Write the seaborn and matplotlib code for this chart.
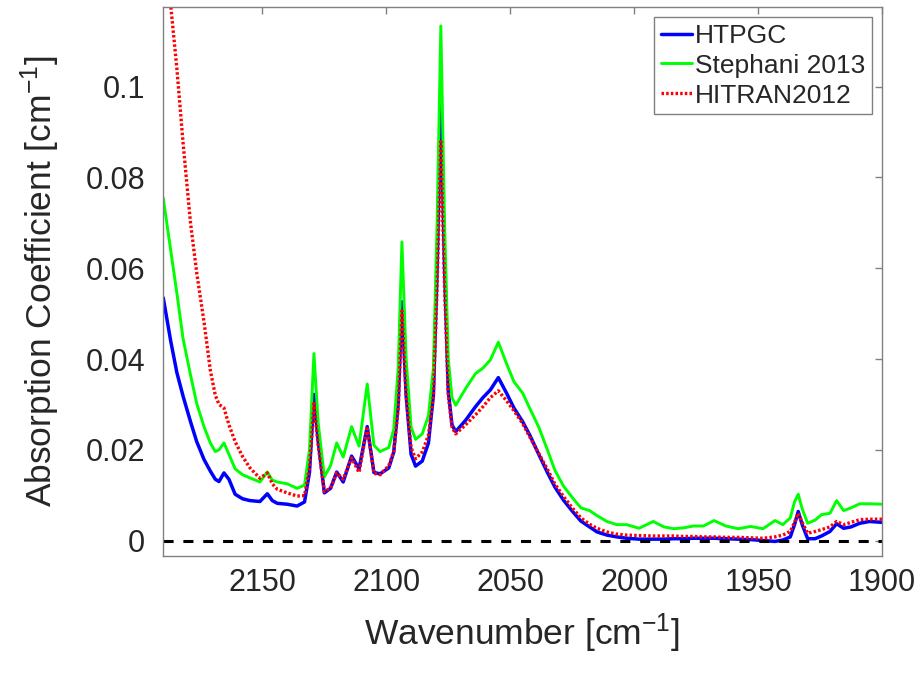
import matplotlib
matplotlib.use("Agg")
import matplotlib.pyplot as plt
import seaborn as sns
import pandas as pd

# wavenumber grid [cm-1] and the three absorption spectra
wavenumber = [
    2190, 2187, 2184.5, 2182, 2179, 2176.5, 2173.5, 2171, 2169, 2167.5,
    2165.5, 2163.5, 2161, 2158, 2155, 2151, 2148, 2146, 2144, 2140,
    2136, 2133, 2131, 2129.2, 2127.5, 2125, 2122.5, 2120, 2117.4, 2114,
    2111, 2107.7, 2105, 2102.5, 2099, 2097, 2095.2, 2093.7, 2092, 2090,
    2088.2, 2085.5, 2083, 2081, 2079.5, 2078, 2076.5, 2075, 2073.5, 2072,
    2068, 2064, 2061, 2058, 2054.8, 2051.5, 2048.5, 2045, 2042, 2038.5,
    2035, 2032, 2028.5, 2025, 2021.5, 2018, 2015, 2011, 2007, 2003,
    1998, 1992.3, 1988, 1984, 1980, 1976, 1972, 1967.8, 1963, 1958,
    1953, 1948, 1943.2, 1940, 1937, 1935.3, 1933.8, 1932.2, 1930, 1927,
    1924.4, 1921, 1918.3, 1915.5, 1912.5, 1909, 1905, 1900,
]

htpgc = [
    0.0535, 0.0440, 0.0370, 0.0318, 0.0262, 0.0218, 0.0178, 0.0153, 0.0135, 0.0130,
    0.0149, 0.0135, 0.0102, 0.0092, 0.0088, 0.0086, 0.0103, 0.0088, 0.0082, 0.0080,
    0.0076, 0.0085, 0.0150, 0.0322, 0.0220, 0.0105, 0.0115, 0.0151, 0.0129, 0.0186,
    0.0158, 0.0251, 0.0150, 0.0147, 0.0160, 0.0195, 0.0300, 0.0526, 0.0320, 0.0190,
    0.0164, 0.0175, 0.0215, 0.0320, 0.0600, 0.0959, 0.0600, 0.0330, 0.0255, 0.0240,
    0.0265, 0.0295, 0.0315, 0.0332, 0.0359, 0.0325, 0.0292, 0.0262, 0.0231, 0.0190,
    0.0150, 0.0118, 0.0089, 0.0065, 0.0043, 0.0030, 0.0019, 0.0012, 0.0008, 0.0005,
    0.0003, 0.0003, 0.0003, 0.0004, 0.0004, 0.0005, 0.0005, 0.0005, 0.0004, 0.0003,
    0.0002, 0.0000, -0.0002, 0.0001, 0.0008, 0.0035, 0.0064, 0.0035, 0.0004, 0.0004,
    0.0010, 0.0020, 0.0037, 0.0027, 0.0030, 0.0038, 0.0042, 0.0040,
]

stephani = [
    0.0755, 0.0640, 0.0545, 0.0445, 0.0365, 0.0302, 0.0250, 0.0215, 0.0196, 0.0200,
    0.0215, 0.0190, 0.0158, 0.0145, 0.0138, 0.0129, 0.0151, 0.0133, 0.0129, 0.0125,
    0.0115, 0.0122, 0.0200, 0.0412, 0.0260, 0.0140, 0.0165, 0.0215, 0.0184, 0.0251,
    0.0208, 0.0345, 0.0210, 0.0196, 0.0205, 0.0245, 0.0380, 0.0658, 0.0400, 0.0250,
    0.0223, 0.0235, 0.0275, 0.0380, 0.0700, 0.1134, 0.0700, 0.0400, 0.0315, 0.0298,
    0.0335, 0.0368, 0.0380, 0.0398, 0.0437, 0.0390, 0.0350, 0.0325, 0.0290, 0.0250,
    0.0200, 0.0155, 0.0120, 0.0095, 0.0072, 0.0066, 0.0055, 0.0042, 0.0035, 0.0035,
    0.0027, 0.0042, 0.0030, 0.0026, 0.0028, 0.0032, 0.0032, 0.0044, 0.0032, 0.0026,
    0.0031, 0.0026, 0.0044, 0.0035, 0.0050, 0.0085, 0.0102, 0.0070, 0.0038, 0.0045,
    0.0057, 0.0060, 0.0088, 0.0066, 0.0072, 0.0081, 0.0081, 0.0080,
]

hitran = [
    0.1330, 0.1180, 0.1040, 0.0876, 0.0700, 0.0590, 0.0480, 0.0375, 0.0320, 0.0300,
    0.0292, 0.0255, 0.0218, 0.0185, 0.0160, 0.0137, 0.0149, 0.0125, 0.0113, 0.0105,
    0.0098, 0.0099, 0.0160, 0.0302, 0.0210, 0.0108, 0.0115, 0.0149, 0.0135, 0.0182,
    0.0150, 0.0251, 0.0148, 0.0145, 0.0165, 0.0196, 0.0290, 0.0506, 0.0320, 0.0205,
    0.0180, 0.0195, 0.0232, 0.0320, 0.0560, 0.0879, 0.0560, 0.0320, 0.0250, 0.0235,
    0.0255, 0.0277, 0.0295, 0.0315, 0.0330, 0.0308, 0.0286, 0.0258, 0.0227, 0.0192,
    0.0157, 0.0125, 0.0097, 0.0072, 0.0050, 0.0036, 0.0027, 0.0019, 0.0014, 0.0012,
    0.0011, 0.0010, 0.0010, 0.0010, 0.0009, 0.0009, 0.0008, 0.0008, 0.0007, 0.0007,
    0.0006, 0.0005, 0.0008, 0.0012, 0.0020, 0.0040, 0.0060, 0.0040, 0.0016, 0.0020,
    0.0024, 0.0030, 0.0042, 0.0035, 0.0040, 0.0046, 0.0047, 0.0047,
]

x_ticks = [2150, 2100, 2050, 2000, 1950, 1900]
y_ticks = [0, 0.02, 0.04, 0.06, 0.08, 0.1]
y_ticklabels = ["0", "0.02", "0.04", "0.06", "0.08", "0.1"]

df = pd.DataFrame({"wn": wavenumber, "HTPGC": htpgc,
                   "Stephani 2013": stephani, "HITRAN2012": hitran})

sns.set_style("white")
plt.rcParams["font.family"] = ["Liberation Sans", "DejaVu Sans"]
plt.rcParams["mathtext.default"] = "regular"

fig, ax = plt.subplots(figsize=(9.2, 6.76), dpi=100)
fig.subplots_adjust(left=162.5 / 920, right=882 / 920,
                    top=1 - 7.3 / 676, bottom=1 - 555.5 / 676)

sns.lineplot(data=df, x="wn", y="HTPGC", ax=ax, color="#0000ff",
             linewidth=2.5, label="HTPGC")
sns.lineplot(data=df, x="wn", y="Stephani 2013", ax=ax, color="#00ff00",
             linewidth=2.1, label="Stephani 2013")
sns.lineplot(data=df, x="wn", y="HITRAN2012", ax=ax, color="#ff0000",
             linewidth=2.4, linestyle=(0, (0.75, 0.65)), label="HITRAN2012")
ax.axhline(0, color="black", linewidth=2.2, linestyle=(0, (3.3, 3.2)))

ax.set_xlim(2190.3, 1900)
ax.set_ylim(-0.0033, 0.1175)
ax.set_xticks(x_ticks)
ax.set_yticks(y_ticks)
ax.set_yticklabels(y_ticklabels)

ax.tick_params(axis="both", direction="in", length=5, width=1, color="#808080",
               labelsize=22, labelcolor="#262626", top=True, right=True)
ax.tick_params(axis="x", pad=9)
ax.tick_params(axis="y", pad=12.5)
for sp in ax.spines.values():
    sp.set_color("#808080")
    sp.set_linewidth(1.0)

ax.set_xlabel("Wavenumber [cm$^{-1}$]", fontsize=25.5, color="#262626", labelpad=10)
ax.set_ylabel("Absorption Coefficient [cm$^{-1}$]", fontsize=25.5, color="#262626",
              labelpad=17)

leg = ax.legend(loc="upper right", fontsize=19, frameon=True, fancybox=False,
                edgecolor="#808080", framealpha=1, handlelength=1.2,
                handletextpad=0.1, labelspacing=0.22, borderpad=0.25,
                borderaxespad=0.38)
leg.get_frame().set_linewidth(1.0)

fig.savefig("out.png", dpi=100)
